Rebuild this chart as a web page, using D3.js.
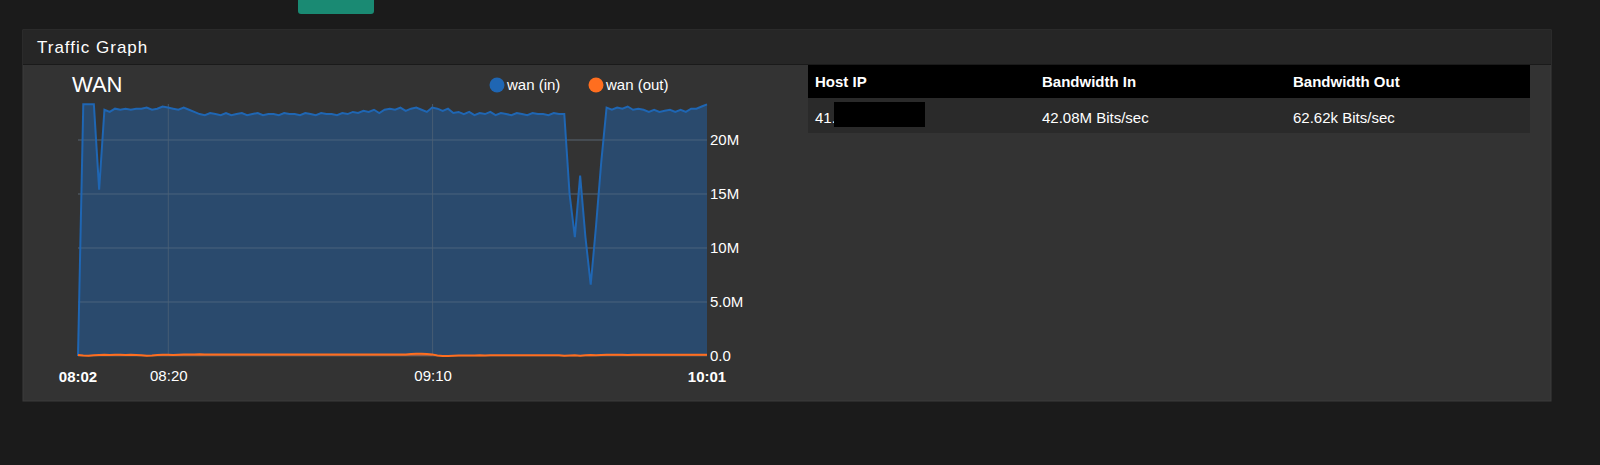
<!DOCTYPE html>
<html><head><meta charset="utf-8">
<script src="https://cdn.jsdelivr.net/npm/d3@7"></script>
<style>
body{margin:0;background:#1b1b1b;font-family:"Liberation Sans",Arial,sans-serif;}
</style></head><body>
<svg id="c" width="1600" height="465"></svg>
<script>
const startTime = "08:02:55";
const inValues = [0,23.3,23.3,23.3,15.4,22.8,22.6,22.9,22.8,22.9,22.8,22.9,22.9,23.0,22.8,22.9,23.1,23.0,22.9,22.8,23.0,22.8,22.6,22.4,22.3,22.5,22.4,22.3,22.5,22.3,22.4,22.5,22.3,22.4,22.5,22.3,22.4,22.4,22.3,22.5,22.4,22.4,22.3,22.5,22.4,22.3,22.5,22.4,22.4,22.3,22.5,22.4,22.6,22.5,22.7,22.6,22.8,22.5,22.8,22.9,22.8,23.0,22.7,22.9,23.0,22.8,22.6,23.0,22.9,22.7,22.9,22.5,22.6,22.4,22.6,22.3,22.5,22.4,22.6,22.3,22.5,22.4,22.3,22.5,22.4,22.3,22.5,22.4,22.4,22.3,22.5,22.4,22.4,15.0,11.0,16.7,11.0,6.6,12.0,18.0,23.0,22.8,23.0,22.9,23.1,22.8,22.9,22.8,22.6,22.8,22.6,22.7,22.8,22.6,22.8,22.6,22.9,22.9,23.1,23.3];
const outValues = [0.1,0.05,0.02,0.08,0.1,0.12,0.1,0.12,0.11,0.1,0.12,0.1,0.08,0.02,0.05,0.1,0.12,0.12,0.1,0.12,0.14,0.15,0.14,0.16,0.15,0.15,0.14,0.15,0.15,0.14,0.15,0.15,0.14,0.15,0.14,0.15,0.15,0.14,0.14,0.15,0.14,0.15,0.15,0.14,0.15,0.14,0.14,0.15,0.15,0.14,0.15,0.15,0.14,0.15,0.15,0.14,0.15,0.15,0.14,0.15,0.15,0.14,0.15,0.18,0.2,0.2,0.18,0.15,0.05,0.0,0.0,0.02,0.05,0.05,0.04,0.05,0.06,0.05,0.06,0.07,0.06,0.07,0.08,0.07,0.08,0.08,0.07,0.08,0.08,0.07,0.08,0.08,0.02,0.05,0.08,0.02,0.06,0.1,0.08,0.1,0.12,0.11,0.12,0.12,0.1,0.12,0.12,0.11,0.12,0.12,0.11,0.12,0.12,0.11,0.12,0.12,0.11,0.12,0.12,0.12];
const yTicks = [0,5,10,15,20];
const xTicks = ["08:20","09:10"];
const xEnds = ["08:02","10:01"];
const seriesNames = ["wan (in)","wan (out)"];
const seriesColors = ["#1f66b3","#ff6e1f"];
const tableHead = ["Host IP","Bandwidth In","Bandwidth Out"];
const tableRow = ["41.","42.08M Bits/sec","62.62k Bits/sec"];

const svg = d3.select("#c");
const P = d3.timeParse("%H:%M:%S");
const t0 = P(startTime);
const data = inValues.map((v,i)=>({t:new Date(+t0+i*60000), vin:v, vout:outValues[i]}));

svg.append("rect").attr("x",298).attr("y",-6).attr("width",76).attr("height",20).attr("rx",3).attr("fill","#1a8a73");
svg.append("rect").attr("x",23).attr("y",30).attr("width",1528).attr("height",371).attr("fill","#333").attr("stroke","#3c3c3c");
svg.append("rect").attr("x",23).attr("y",30).attr("width",1528).attr("height",34).attr("fill","#262626");
svg.append("line").attr("x1",23).attr("x2",1551).attr("y1",64.5).attr("y2",64.5).attr("stroke","#1a1a1a");
svg.append("text").attr("x",37).attr("y",53).attr("fill","#fff").attr("font-size",17).attr("letter-spacing",1).text("Traffic Graph");

const x = d3.scaleTime().domain([data[0].t, data[data.length-1].t]).range([78,707]);
const y = d3.scaleLinear().domain([0,20]).range([356,140]);

const g = svg.append("g");
g.selectAll("line.h").data(yTicks).join("line").attr("x1",78).attr("x2",707)
 .attr("y1",d=>y(d)).attr("y2",d=>y(d)).attr("stroke","#555");
g.append("path").datum(data).attr("fill","#1f66b3").attr("fill-opacity",0.45)
 .attr("d",d3.area().x(d=>x(d.t)).y0(y(0)).y1(d=>y(d.vin)));
g.append("path").datum(data).attr("fill","#ff6e1f").attr("fill-opacity",0.45)
 .attr("d",d3.area().x(d=>x(d.t)).y0(y(0)).y1(d=>y(d.vout)));
g.selectAll("line.h2").data(yTicks.slice(1)).join("line").attr("x1",78).attr("x2",707)
 .attr("y1",d=>y(d)).attr("y2",d=>y(d)).attr("stroke","#4c6276").attr("stroke-opacity",0.6);
const vt = xTicks.map(s=>d3.timeParse("%H:%M")(s));
g.selectAll("line.v").data(vt).join("line").attr("x1",d=>x(d)).attr("x2",d=>x(d))
 .attr("y1",y(0)).attr("y2",104).attr("stroke","#4c6276").attr("stroke-opacity",0.8);
g.append("path").datum(data).attr("fill","none").attr("stroke",seriesColors[0]).attr("stroke-width",2)
 .attr("d",d3.line().x(d=>x(d.t)).y(d=>y(d.vin)));
g.append("path").datum(data).attr("fill","none").attr("stroke",seriesColors[1]).attr("stroke-width",2)
 .attr("d",d3.line().x(d=>x(d.t)).y(d=>y(d.vout)));

const ya = svg.append("g").attr("transform","translate(707,0)")
 .call(d3.axisRight(y).tickValues(yTicks).tickSize(0).tickPadding(3).tickFormat(d=>d===0?"0.0":d===5?"5.0M":d+"M"));
ya.select(".domain").remove();
ya.selectAll("text").attr("fill","#fff").attr("font-size",15).attr("font-family","Liberation Sans, Arial");
const xa = svg.append("g").attr("transform","translate(0,356)")
 .call(d3.axisBottom(x).tickValues(vt).tickSize(0).tickPadding(14).tickFormat(d3.timeFormat("%H:%M")));
xa.select(".domain").remove();
xa.selectAll("text").attr("fill","#fff").attr("font-size",15).attr("font-family","Liberation Sans, Arial");
svg.selectAll("text.end").data([data[0].t, data[data.length-1].t]).join("text")
 .attr("x",d=>x(d)).attr("y",382).attr("text-anchor","middle").attr("fill","#fff")
 .attr("font-size",15).attr("font-weight","bold").text((d,i)=>xEnds[i]);

svg.append("text").attr("x",72).attr("y",92).attr("fill","#fff").attr("font-size",22).text("WAN");
const lx=[497,596];
seriesNames.forEach((n,i)=>{
  svg.append("circle").attr("cx",lx[i]).attr("cy",85).attr("r",7.5).attr("fill",seriesColors[i]);
  svg.append("text").attr("x",lx[i]+10).attr("y",90).attr("fill","#fff").attr("font-size",15).text(n);
});

svg.append("rect").attr("x",808).attr("y",65).attr("width",722).attr("height",33).attr("fill","#000");
svg.append("rect").attr("x",808).attr("y",98).attr("width",722).attr("height",35).attr("fill","#2a2a2a");
const cx=[815,1042,1293];
tableHead.forEach((h,i)=>svg.append("text").attr("x",cx[i]).attr("y",87).attr("fill","#fff").attr("font-size",15).attr("font-weight","bold").text(h));
tableRow.forEach((h,i)=>svg.append("text").attr("x",cx[i]).attr("y",123).attr("fill","#fff").attr("font-size",15).text(h));
svg.append("rect").attr("x",834).attr("y",102).attr("width",91).attr("height",25).attr("fill","#000");
</script></body></html>
